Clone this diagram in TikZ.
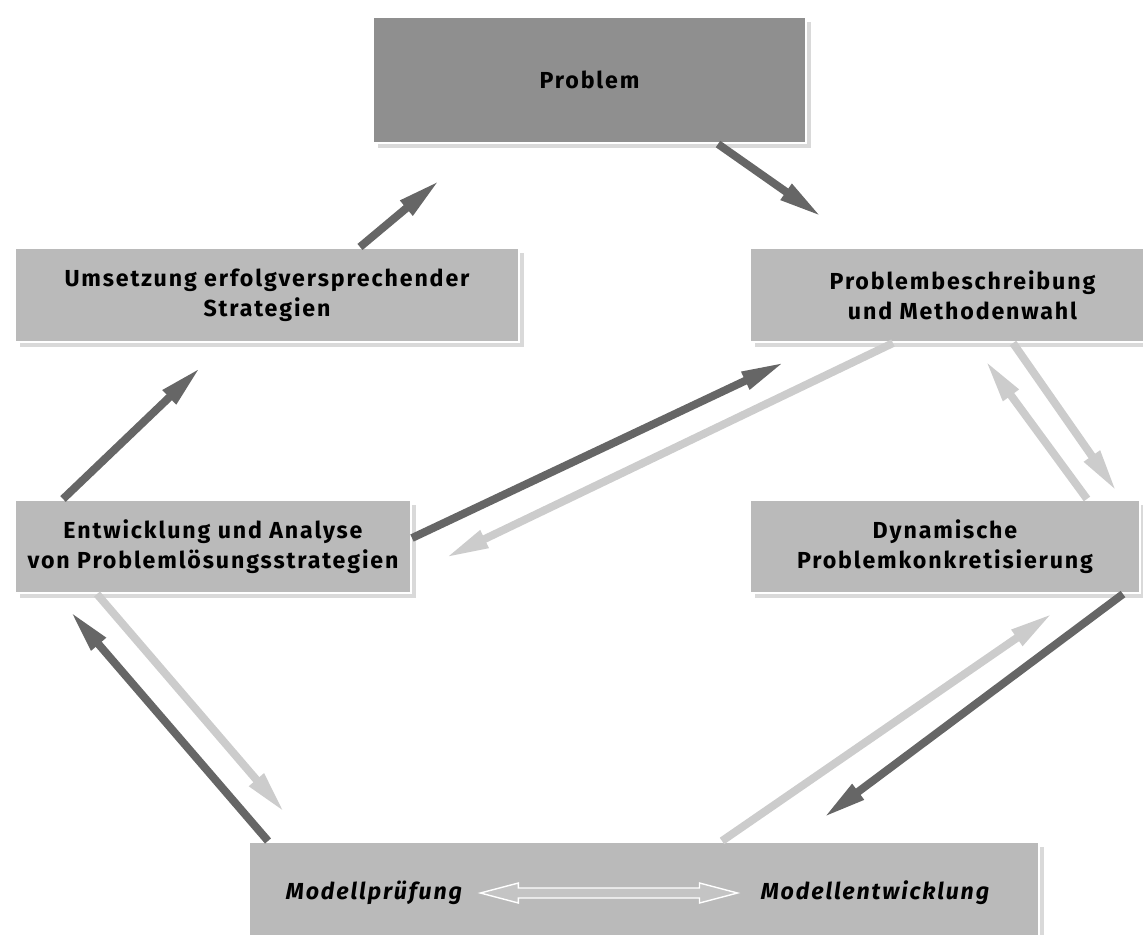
\documentclass[tikz,border=0pt]{standalone}
\usepackage{fontspec}
\setmainfont{Fira Sans}[LetterSpace=8]
\usepackage{tikz}
\usetikzlibrary{arrows.meta, positioning, calc, shadows}
\definecolor{boxgray}{RGB}{186,186,186}
\definecolor{topgray}{RGB}{143,143,143}
\definecolor{darkarrow}{RGB}{102,102,102}
\definecolor{lightarrow}{RGB}{204,204,204}

\begin{document}
\begin{tikzpicture}[x=0.02cm, y=-0.02cm,
  pbox/.style={draw=white, line width=1.2pt, fill=boxgray, drop shadow={shadow xshift=3pt, shadow yshift=-3pt, opacity=0.3}, align=center, inner sep=0pt, text=black, font=\bfseries\fontsize{13.2}{17}\selectfont},
  mlabel/.style={inner sep=0pt, text=black, font=\bfseries\itshape\fontsize{13.2}{17}\selectfont},
  darrow/.style={draw=darkarrow, line width=4.5pt, -{Triangle[length=25pt, width=10pt]}},
  larrow/.style={draw=lightarrow, line width=4.5pt, -{Triangle[length=25pt, width=10pt]}}
]
  \useasboundingbox (0,0) rectangle (1143,934);

  \node[pbox, fill=topgray, minimum width=8.66cm, minimum height=2.52cm] (prob) at (589.5, 80) {Problem};
  \node[pbox, minimum width=10.08cm, minimum height=1.88cm] (umset) at (267, 295) {Umsetzung erfolgversprechender\\Strategien};
  \node[pbox, minimum width=8.5cm, minimum height=1.88cm] (beschr) at (962.5, 295) {Problembeschreibung\\und Methodenwahl};
  \node[pbox, minimum width=7.92cm, minimum height=1.86cm] (entw) at (213, 546.5) {Entwicklung und Analyse\\von Problemlösungsstrategien};
  \node[pbox, minimum width=7.8cm, minimum height=1.86cm] (dyn) at (945, 546.5) {Dynamische\\Problemkonkretisierung};
  \node[pbox, minimum width=15.8cm, minimum height=2.16cm] (modell) at (644, 896) {};
  \node[mlabel] (mpruef) at (374, 893) {Modellprüfung};
  \node[mlabel] (mentw) at (875, 893) {Modellentwicklung};

  \coordinate (t1) at (440, 180);
  \coordinate (t2) at (822, 217);
  \coordinate (t3) at (201, 367);
  \coordinate (t4) at (785, 362);
  \coordinate (t5) at (445, 558);
  \coordinate (t6) at (1117, 492);
  \coordinate (t7) at (985, 360);
  \coordinate (t8) at (70, 611);
  \coordinate (t9) at (285, 813);
  \coordinate (t10) at (1053, 613);
  \coordinate (t11) at (823, 818);

  \draw[darrow] ([shift={(93,0)}]umset.north) -- (t1);
  \draw[darrow] ([shift={(128.5,0)}]prob.south) -- (t2);
  \draw[darrow] ([shift={(-150,0)}]entw.north) -- (t3);
  \draw[darrow] ([shift={(0,-8.5)}]entw.east) -- (t4);
  \draw[larrow] ([shift={(-69.5,0)}]beschr.south) -- (t5);
  \draw[larrow] ([shift={(50.5,0)}]beschr.south) -- (t6);
  \draw[larrow] ([shift={(142,0)}]dyn.north) -- (t7);
  \draw[darrow] ([shift={(-376,0)}]modell.north) -- (t8);
  \draw[larrow] ([shift={(-116,0)}]entw.south) -- (t9);
  \draw[larrow] ([shift={(78,0)}]modell.north) -- (t10);
  \draw[darrow] ([shift={(178,0)}]dyn.south) -- (t11);

  \coordinate (dl) at ($(mpruef.east)+(18,0)$);
  \coordinate (dr) at ($(mentw.west)+(-23,0)$);
  \draw[white, line width=0.8pt, fill=boxgray!85!white] (dl) -- ($(dl)+(38,-10)$) -- ($(dl)+(38,-5)$) -- ($(dr)+(-38,-5)$) -- ($(dr)+(-38,-10)$) -- (dr) -- ($(dr)+(-38,10)$) -- ($(dr)+(-38,5)$) -- ($(dl)+(38,5)$) -- ($(dl)+(38,10)$) -- cycle;
\end{tikzpicture}
\end{document}
